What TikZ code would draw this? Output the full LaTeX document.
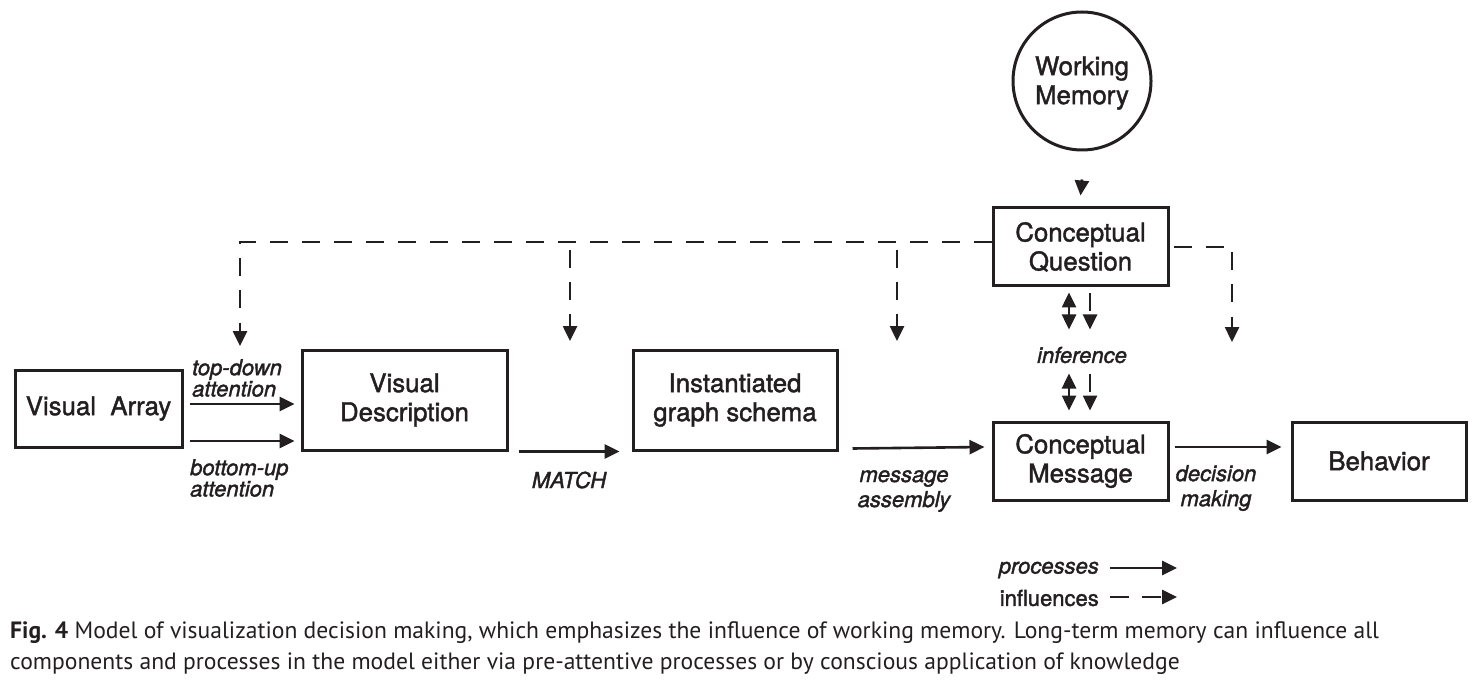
\documentclass[tikz,border=0pt]{standalone}
\usepackage{fontspec}
\setmainfont[FakeBold=1.6]{TeX Gyre Heros}
\newfontfamily\capfont{PT Sans}
\usetikzlibrary{arrows.meta}
\definecolor{ink}{HTML}{231F20}
\begin{document}
\begin{tikzpicture}[x=1pt,y=-1pt,
  every node/.style={text=ink},
  boxnode/.style={draw=ink, line width=3pt, inner sep=0pt, align=center,
    font=\fontsize{25.8}{29}\selectfont},
  lbl/.style={font=\fontsize{22}{20}\selectfont\itshape, inner sep=0pt},
  tip/.style={},
  proc/.style={draw=ink, line width=2.6pt, -{Triangle[length=15pt,width=14pt]}},
  twoway/.style={draw=ink, line width=2.6pt, {Triangle[length=15pt,width=14pt]}-{Triangle[length=15pt,width=14pt]}},
  infl/.style={draw=ink, line width=2.6pt, dash pattern=on 18pt off 14pt, -{Triangle[length=15pt,width=14pt]}},
]
\useasboundingbox (0,0) rectangle (1479,684);

% nodes
\node[boxnode, minimum width=167pt, minimum height=77pt] (VA) at (98.5,408.5) {Visual\ \ Array};
\node[boxnode, minimum width=205pt, minimum height=100pt] (VD) at (404.5,400) {Visual\\Description};
\node[boxnode, minimum width=204pt, minimum height=100pt] (IGS) at (735,400) {Instantiated\\graph schema};
\node[boxnode, minimum width=175pt, minimum height=78pt] (CQ) at (1080.5,247) {Conceptual\\Question};
\node[boxnode, minimum width=175pt, minimum height=78pt] (CM) at (1080.5,461) {Conceptual\\Message};
\node[boxnode, minimum width=174pt, minimum height=78pt] (BE) at (1379,461) {Behavior};
\node[boxnode, circle, minimum size=138pt] (WM) at (1082,81) {};
\node[font=\fontsize{25.8}{29}\selectfont, align=center, inner sep=0pt] (WMt) at (1082,83) {Working\\Memory};

% labels
\node[lbl, anchor=west, align=left] (td) at (192,378) {top-down\\attention};
\node[lbl, anchor=west, align=left] (bu) at (190,478) {bottom-up\\attention};
\node[lbl] (match) at (569,480) {MATCH};
\node[lbl, align=center, font=\fontsize{22}{25}\selectfont\itshape] (ma) at (904,491) {message\\assembly};
\node[lbl, align=center, font=\fontsize{22}{25}\selectfont\itshape] (dm) at (1216,488) {decision\\making};
\node[lbl] (inf) at (1082,355) {inference};

% processes
\draw[proc] ([xshift=6pt,yshift=4.5pt]VA.east) -- ([xshift=-6pt,yshift=-4pt]VD.west);
\draw[proc] ([xshift=6pt,yshift=-32.5pt]VA.east) -- ([xshift=-6pt,yshift=-41pt]VD.west);
\draw[proc] ([xshift=10pt]VD.south east) -- ([xshift=-12pt]IGS.south west);
\draw[proc] ([xshift=14pt,yshift=3pt]IGS.south east) -- ([xshift=-7pt,yshift=14pt]CM.west);
\draw[proc] ([xshift=5pt,yshift=14pt]CM.east) -- ([xshift=-9pt,yshift=14pt]BE.west);
\draw[twoway] ([xshift=-11.5pt,yshift=-5pt]CQ.south) -- ([xshift=-11.5pt,yshift=-42pt]CQ.south);
\draw[twoway] ([xshift=-11.5pt,yshift=47pt]CM.north) -- ([xshift=-11.5pt,yshift=10pt]CM.north);

% influences
\draw[infl] ([yshift=-28pt]WM.south) -- ([yshift=11pt]CQ.north);
\coordinate (tdA) at (240,346);
\coordinate (mS) at (570,242);
\coordinate (mA) at (570,341);
\coordinate (aS) at (897,242);
\coordinate (aA) at (897,341);
\coordinate (dA) at (1232,342);
\draw[infl] ([yshift=5pt]CQ.west) -| (tdA);
\draw[infl] ([yshift=-8pt]mS) -- (mA);
\draw[infl] ([yshift=-8pt]aS) -- (aA);
\draw[infl] ([xshift=4pt]CQ.east) -| (dA);
\draw[infl] ([xshift=9.5pt,yshift=-6pt]CQ.south) -- ([xshift=9.5pt,yshift=-42pt]CQ.south);
\draw[infl] ([xshift=9.5pt,yshift=47pt]CM.north) -- ([xshift=9.5pt,yshift=10pt]CM.north);

% legend
\node[lbl, anchor=east] (procL) at (1099,570) {processes};
\node[lbl, anchor=east, font=\fontsize{22}{20}\selectfont] (inflL) at (1099,598) {influences};
\coordinate (procE) at (1177,568);
\coordinate (inflE) at (1177,597);
\draw[proc] ([xshift=11pt,yshift=2pt]procL.east) -- (procE);
\draw[draw=ink, line width=2.6pt, dash pattern=on 19pt off 13pt, -{Triangle[length=15pt,width=14pt]}] ([xshift=11pt,yshift=1pt]inflL.east) -- (inflE);

% caption
\node[anchor=west, inner sep=0pt, font=\capfont\fontsize{23.6}{31}\selectfont] (cap1) at (10,633)
  {\textbf{Fig. 4} Model of visualization decision making, which emphasizes the influence of working memory. Long-term memory can influence all};
\node[anchor=west, inner sep=0pt, font=\capfont\fontsize{23.6}{31}\selectfont] (cap2) at (10,664)
  {components and processes in the model either via pre-attentive processes or by conscious application of knowledge};
\end{tikzpicture}
\end{document}
